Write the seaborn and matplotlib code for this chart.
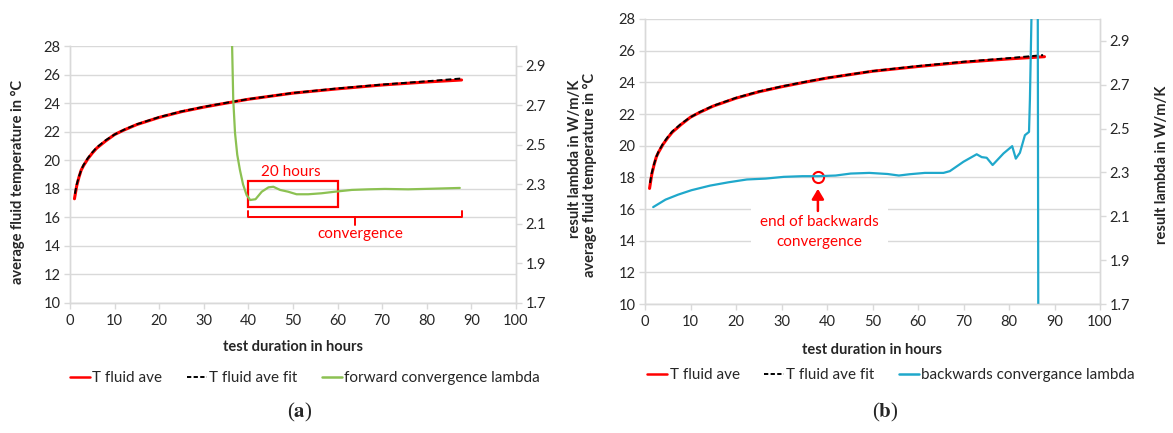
import numpy as np
import pandas as pd
import matplotlib.pyplot as plt
import seaborn as sns
from matplotlib.lines import Line2D
from matplotlib.patches import Rectangle

# data
hours = [1.0, 1.5, 2, 2.5, 3, 4, 5, 6, 8, 10, 12, 15, 20, 25, 30, 35, 40, 50, 60, 70, 80, 87.8]
t_fluid = [17.3, 18.2, 18.8, 19.3, 19.6, 20.1, 20.5, 20.85, 21.35, 21.8, 22.1, 22.5, 23.0, 23.4, 23.72,
           24.0, 24.27, 24.7, 25.0, 25.27, 25.48, 25.62]
hours_fit = [1.1, 1.5, 2, 2.5, 3, 4, 5, 6, 8, 10, 12, 15, 20, 25, 30, 35, 40, 50, 60, 70, 80, 87.5]
t_fluid_fit = [17.65, 18.3, 18.85, 19.3, 19.65, 20.15, 20.55, 20.9, 21.4, 21.8, 22.12, 22.52, 23.02, 23.42, 23.74,
               24.02, 24.28, 24.71, 25.03, 25.3, 25.53, 25.72]

hours_fwd = [36.3, 36.6, 37.0, 37.5, 38.1, 38.8, 39.6, 40.4, 41.6, 43.0, 44.5, 45.6, 47.1, 48.9, 50.8,
             53.4, 56.4, 59.4, 63.2, 66.9, 70.6, 75.8, 81.1, 87.4]
lambda_fwd = [3.05, 2.73, 2.56, 2.45, 2.373, 2.30, 2.246, 2.221, 2.225, 2.263, 2.285, 2.288, 2.272, 2.263, 2.25,
              2.25, 2.255, 2.263, 2.272, 2.275, 2.277, 2.275, 2.278, 2.282]

hours_bwd = [1.8, 4.5, 7.3, 10.2, 14.3, 18.3, 22.4, 26.5, 30.5, 34.6, 38.0, 41.9, 45.2, 49.3, 53.3, 55.8,
             58.2, 61.5, 65.6, 67.0, 70.0, 72.9, 74.0, 75.1, 76.4, 78.8, 80.7, 81.5, 82.4, 83.5, 84.4,
             84.6, 85.2, 86.3, 86.45]
lambda_bwd = [2.142, 2.176, 2.199, 2.219, 2.24, 2.255, 2.268, 2.272, 2.28, 2.283, 2.283, 2.286, 2.295, 2.298,
              2.293, 2.286, 2.292, 2.298, 2.298, 2.306, 2.349, 2.383, 2.37, 2.367, 2.334, 2.387, 2.42, 2.363,
              2.39, 2.47, 2.485, 2.635, 3.3, 3.3, 1.5]

x_ticks = list(range(0, 101, 10))
t_ticks = list(range(10, 29, 2))
lam_ticks = [1.7, 1.9, 2.1, 2.3, 2.5, 2.7, 2.9]

# annotation positions (left axis units)
box_a = (40.0, 16.7, 20.2, 1.84)
bracket_a = (40.0, 88.0, 16.04)
circle_b = (38.0, 18.05)

RED = "#FF0000"
GREEN = "#8CC152"
BLUE = "#1FA8CB"
GRID = "#D9D9D9"
TXT = "#262626"

sns.set_theme(style="white")
plt.rcParams["font.family"] = ["Lato", "DejaVu Sans"]
plt.rcParams["mathtext.fontset"] = "stix"

fig = plt.figure(figsize=(11.73, 4.33), dpi=100)
ax_a = fig.add_axes([70 / 1173, 1 - 303 / 433, 446 / 1173, 257 / 433])
ax_b = fig.add_axes([645 / 1173, 1 - 304 / 433, 455 / 1173, 285 / 433])

df_t = pd.DataFrame({"hours": hours, "t": t_fluid})
df_fit = pd.DataFrame({"hours": hours_fit, "t": t_fluid_fit})
df_fwd = pd.DataFrame({"hours": hours_fwd, "lam": lambda_fwd})
df_bwd = pd.DataFrame({"hours": hours_bwd, "lam": lambda_bwd})


def style_axes(ax, ax2):
    ax.set_xlim(0, 100)
    ax.set_ylim(10, 28)
    ax2.set_ylim(1.7, 3.0)
    ax.set_xticks(x_ticks)
    ax.set_yticks(t_ticks)
    ax2.set_yticks(lam_ticks)
    ax2.set_yticklabels([f"{v:.1f}" for v in lam_ticks])
    ax.grid(axis="y", color=GRID, lw=1)
    ax.grid(axis="x", visible=False)
    ax.set_axisbelow(True)
    for a in (ax, ax2):
        for s in a.spines.values():
            s.set_color(GRID)
            s.set_linewidth(1)
        a.spines["top"].set_visible(False)
        a.tick_params(colors=GRID, labelcolor=TXT, labelsize=10.5, length=4, width=1)
    ax.tick_params(axis="y", left=True, direction="out", pad=3)
    ax.tick_params(axis="x", bottom=True, direction="out", pad=4)
    ax2.tick_params(axis="y", right=True, direction="out", pad=3)
    ax.set_xlabel("test duration in hours", fontsize=10.5, fontweight="bold", color=TXT)
    ax.set_ylabel("average fluid temperature in °C", fontsize=10.5, fontweight="bold", color=TXT)
    ax2.set_ylabel("result lambda in W/m/K", fontsize=10.5, fontweight="bold", color=TXT)


def draw_temps(ax):
    sns.lineplot(data=df_t, x="hours", y="t", ax=ax, color=RED, lw=2.2, estimator=None, legend=False)
    sns.lineplot(data=df_fit, x="hours", y="t", ax=ax, color="black", lw=1.4, estimator=None, legend=False,
                 dashes=False, linestyle=(0, (3, 1.6)))


# (a)
ax_a2 = ax_a.twinx()
draw_temps(ax_a)
sns.lineplot(data=df_fwd, x="hours", y="lam", ax=ax_a2, color=GREEN, lw=1.6, estimator=None, legend=False)
style_axes(ax_a, ax_a2)
ax_a.yaxis.set_label_coords(-0.101, 0.47)
ax_a2.yaxis.set_label_coords(1.117, 0.56)
ax_a.xaxis.set_label_coords(0.5, -0.144)

bx, by, bw, bh = box_a
ax_a.add_patch(Rectangle((bx, by), bw, bh, fill=False, ec=RED, lw=1.6, zorder=5))
ax_a.text(49.5, 19.15, "20 hours", color=RED, fontsize=11, ha="center", va="center")
x0, x1, yb = bracket_a
ax_a.plot([x0, x0, x1, x1], [yb + 0.4, yb, yb, yb + 0.4], color=RED, lw=1.4, clip_on=False)
ax_a.plot([63.9, 63.9], [yb, yb - 0.55], color=RED, lw=1.4)
ax_a.text(65.2, 14.85, "convergence", color=RED, fontsize=11, ha="center", va="center")

# (b)
ax_b2 = ax_b.twinx()
draw_temps(ax_b)
sns.lineplot(data=df_bwd, x="hours", y="lam", ax=ax_b2, color=BLUE, lw=1.6, estimator=None, legend=False)
style_axes(ax_b, ax_b2)
ax_b.yaxis.set_label_coords(-0.1055, 0.453)
ax_b2.yaxis.set_label_coords(1.121, 0.49)
ax_b.xaxis.set_label_coords(0.5, -0.137)

ax_b.plot([circle_b[0]], [circle_b[1]], marker="o", ms=8, mfc="none", mec=RED, mew=1.5, zorder=6)
ax_b.text(38.3, 14.55, "end of backwards\nconvergence", color=RED, fontsize=11, ha="center", va="center",
          linespacing=1.5, zorder=4,
          bbox=dict(boxstyle="square,pad=0.6", fc="white", ec="none"))
ax_b.annotate("", xy=(38.0, 17.45), xytext=(38.0, 15.7),
              arrowprops=dict(arrowstyle="-|>,head_width=0.3,head_length=0.5", color=RED, lw=1.8),
              zorder=7)

# legends
def legend_handles(color3, label3):
    h = [Line2D([], [], color=RED, lw=1.8),
         Line2D([], [], color="black", lw=1.4, linestyle=(0, (2.2, 1.2))),
         Line2D([], [], color=color3, lw=1.8)]
    return h, ["T fluid ave", "T fluid ave fit", label3]

h, l = legend_handles(GREEN, "forward convergence lambda")
fig.legend(h, l, loc="center", bbox_to_anchor=(305 / 1173, 1 - 378 / 433), ncol=3, frameon=False,
           fontsize=11, handlelength=1.3, handletextpad=0.15, columnspacing=1.6)
h, l = legend_handles(BLUE, "backwards convergance lambda")
fig.legend(h, l, loc="center", bbox_to_anchor=(891 / 1173, 1 - 375 / 433), ncol=3, frameon=False,
           fontsize=11, handlelength=1.3, handletextpad=0.15, columnspacing=1.6)

fig.text(300 / 1173, 1 - 412 / 433, r"($\mathbf{a}$)", fontsize=15, ha="center", va="center",
         family="Liberation Serif")
fig.text(885 / 1173, 1 - 412 / 433, r"($\mathbf{b}$)", fontsize=15, ha="center", va="center",
         family="Liberation Serif")

fig.savefig("out.png", dpi=100, facecolor="white")
